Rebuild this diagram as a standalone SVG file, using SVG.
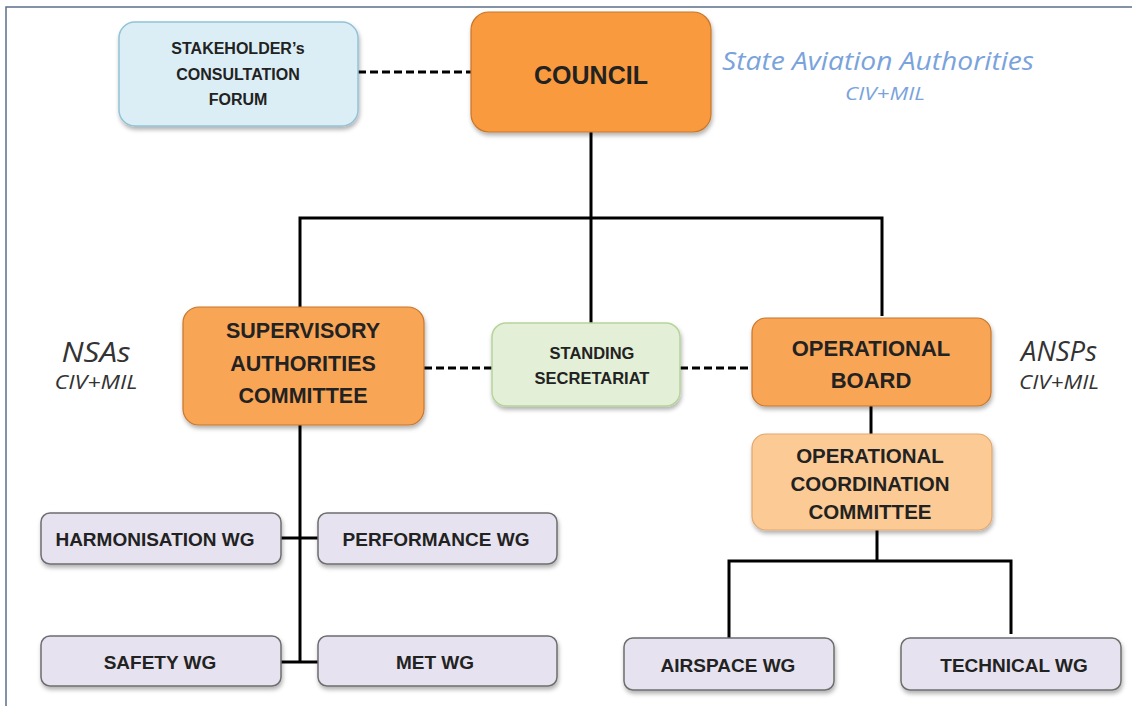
<svg xmlns="http://www.w3.org/2000/svg" width="1132" height="706" viewBox="0 0 1132 706">
<style>
.t{font-family:"Liberation Sans",Arial,sans-serif;font-weight:bold;fill:#222;text-anchor:middle;dominant-baseline:central}
.i{font-family:"Open Sans","Liberation Sans",sans-serif;font-style:italic;text-anchor:middle;dominant-baseline:central}
.orange{fill:#f89a3c;stroke:#c8762b;stroke-width:1.2}
.orange2{fill:#f9a556;stroke:#c8762b;stroke-width:1.2}
.light{fill:#fcca95;stroke:#e0a870;stroke-width:1.2}
.blue{fill:#dbeef6;stroke:#93c2d6;stroke-width:1.5}
.green{fill:#e3efd6;stroke:#b5d59a;stroke-width:1.5}
.wg{fill:#e6e2ef;stroke:#6e6e6e;stroke-width:1.5}
.solid{stroke:#000;stroke-width:3;fill:none}
.dash{stroke:#000;stroke-width:3;fill:none;stroke-dasharray:8 4}
.wgt{font-size:19px}
</style>
<defs>
<filter id="sh" x="-10%" y="-10%" width="130%" height="140%">
<feDropShadow dx="1" dy="3" stdDeviation="2" flood-color="#000" flood-opacity="0.3"/>
</filter>
</defs>
<rect x="0" y="0" width="1132" height="706" fill="#fff"/>
<path d="M6 706 V7 H1132" fill="none" stroke="#5b6f8a" stroke-width="1.5"/>

<g id="connectors">
<path class="dash" d="M358 72 H471"/>
<path class="solid" d="M591 132 V218 M300 307 V218 H882 V316 M591 218 V323"/>
<path class="dash" d="M424 368 H492"/>
<path class="dash" d="M680 368 H752"/>
<path class="solid" d="M300 425 V662 M281 538 H318 M281 662 H318"/>
<path class="solid" d="M871 406 V434"/>
<path class="solid" d="M877 530 V561 M729 638 V561 H1011 V634"/>
</g>

<g id="stakeholder">
<rect class="blue" x="119" y="22" width="239" height="104" rx="16" filter="url(#sh)"/>
<text class="t" x="238" y="48" font-size="16">STAKEHOLDER’s</text>
<text class="t" x="238" y="74" font-size="16">CONSULTATION</text>
<text class="t" x="238" y="99" font-size="16">FORUM</text>
</g>

<g id="council">
<rect class="orange" x="471" y="12" width="240" height="120" rx="18" filter="url(#sh)"/>
<text class="t" x="591" y="75" font-size="25">COUNCIL</text>
</g>

<g id="saa-label">
<text class="i" x="878" y="60" font-size="26" fill="#7aa3dc" textLength="312" lengthAdjust="spacingAndGlyphs">State Aviation Authorities</text>
<text class="i" x="885" y="93" font-size="19" fill="#7aa3dc" textLength="80" lengthAdjust="spacingAndGlyphs">CIV+MIL</text>
</g>

<g id="nsa-label">
<text class="i" x="96" y="351" font-size="27" fill="#333" textLength="69" lengthAdjust="spacingAndGlyphs">NSAs</text>
<text class="i" x="96" y="381" font-size="20" fill="#333" textLength="83" lengthAdjust="spacingAndGlyphs">CIV+MIL</text>
</g>

<g id="ansp-label">
<text class="i" x="1059" y="350" font-size="27" fill="#333" textLength="76" lengthAdjust="spacingAndGlyphs">ANSPs</text>
<text class="i" x="1059" y="381" font-size="20" fill="#333" textLength="80" lengthAdjust="spacingAndGlyphs">CIV+MIL</text>
</g>

<g id="sac">
<rect class="orange2" x="183" y="307" width="241" height="118" rx="16" filter="url(#sh)"/>
<text class="t" x="303" y="331" font-size="21.5">SUPERVISORY</text>
<text class="t" x="303" y="364" font-size="21.5">AUTHORITIES</text>
<text class="t" x="303" y="396" font-size="21.5">COMMITTEE</text>
</g>

<g id="secretariat">
<rect class="green" x="492" y="323" width="188" height="83" rx="14" filter="url(#sh)"/>
<text class="t" x="592" y="353" font-size="16.5">STANDING</text>
<text class="t" x="592" y="378" font-size="16.5">SECRETARIAT</text>
</g>

<g id="opboard">
<rect class="orange2" x="752" y="318" width="239" height="88" rx="14" filter="url(#sh)"/>
<text class="t" x="871" y="348" font-size="22">OPERATIONAL</text>
<text class="t" x="871" y="380" font-size="22">BOARD</text>
</g>

<g id="occ">
<rect class="light" x="752" y="434" width="240" height="96" rx="14" filter="url(#sh)"/>
<text class="t" x="870" y="455" font-size="20.5">OPERATIONAL</text>
<text class="t" x="870" y="483" font-size="20.5">COORDINATION</text>
<text class="t" x="870" y="511" font-size="20.5">COMMITTEE</text>
</g>

<g id="harmonisation">
<rect class="wg" x="41" y="513" width="240" height="51" rx="9" filter="url(#sh)"/>
<text class="t wgt" x="155" y="539">HARMONISATION WG</text>
</g>
<g id="performance">
<rect class="wg" x="318" y="513" width="239" height="51" rx="9" filter="url(#sh)"/>
<text class="t wgt" x="436" y="539">PERFORMANCE WG</text>
</g>
<g id="safety">
<rect class="wg" x="41" y="636" width="240" height="50" rx="9" filter="url(#sh)"/>
<text class="t wgt" x="160" y="662">SAFETY WG</text>
</g>
<g id="met">
<rect class="wg" x="318" y="636" width="239" height="50" rx="9" filter="url(#sh)"/>
<text class="t wgt" x="435" y="662">MET WG</text>
</g>
<g id="airspace">
<rect class="wg" x="624" y="638" width="210" height="52" rx="9" filter="url(#sh)"/>
<text class="t wgt" x="728" y="665">AIRSPACE WG</text>
</g>
<g id="technical">
<rect class="wg" x="901" y="638" width="220" height="52" rx="9" filter="url(#sh)"/>
<text class="t wgt" x="1014" y="665">TECHNICAL WG</text>
</g>
</svg>
